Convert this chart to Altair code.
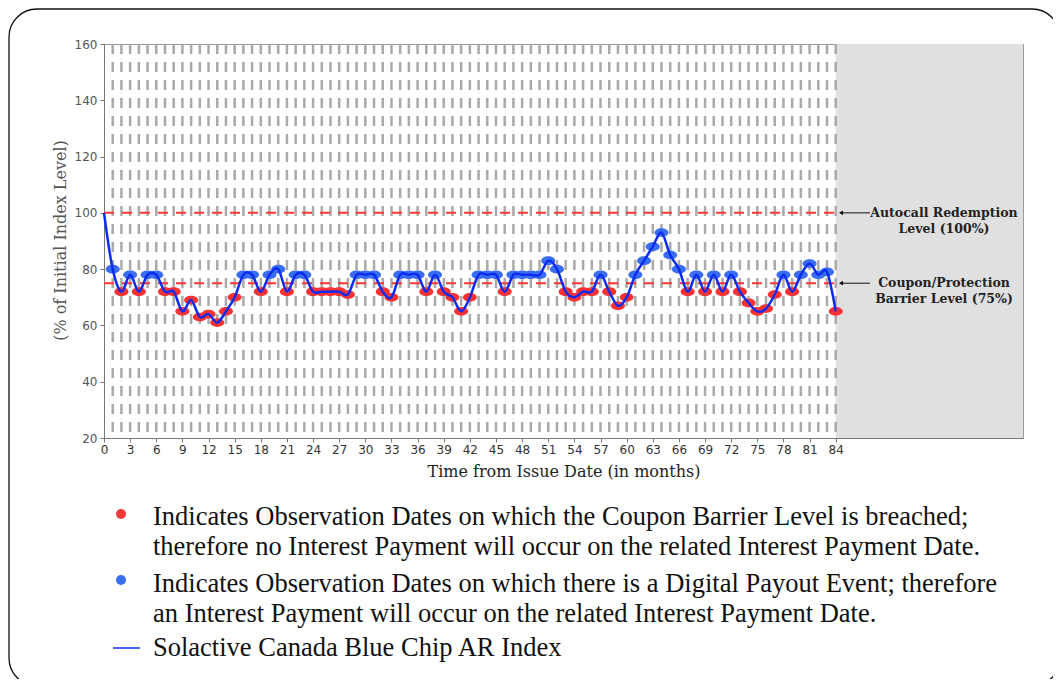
import altair as alt
import pandas as pd

# ---- data ----
months = list(range(0, 85))
index_level = [100,
    80, 72, 78, 72, 78, 78, 72, 72, 65, 69,
    63, 64, 61, 65, 70, 78, 78, 72, 78, 80,
    72, 78, 78, 72, 72, 72, 72, 71, 78, 78,
    78, 72, 70, 78, 78, 78, 72, 78, 72, 70,
    65, 70, 78, 78, 78, 72, 78, 78, 78, 78,
    83, 80, 72, 70, 72, 72, 78, 72, 67, 70,
    78, 83, 88, 93, 85, 80, 72, 78, 72, 78,
    72, 78, 72, 68, 65, 66, 71, 78, 72, 78,
    82, 78, 79, 65]
barrier = 75
autocall = 100
x_ticks = list(range(0, 85, 3))
y_ticks = list(range(20, 161, 20))
ann_levels = [100, 75]
ann_texts = [["Autocall Redemption", "Level (100%)"], ["Coupon/Protection", "Barrier Level (75%)"]]
legend_red = ["Indicates Observation Dates on which the Coupon Barrier Level is breached;",
              "therefore no Interest Payment will occur on the related Interest Payment Date."]
legend_blue = ["Indicates Observation Dates on which there is a Digital Payout Event; therefore",
               "an Interest Payment will occur on the related Interest Payment Date."]
legend_line = "Solactive Canada Blue Chip AR Index"

X_MAX = 105.5
W, H = 919, 394

line_df = pd.DataFrame({"month": months, "level": index_level})
obs_df = pd.DataFrame({"month": months[1:], "level": index_level[1:]})
obs_df["status"] = ["Payout" if v >= barrier else "Breached" for v in obs_df["level"]]
grid_df = pd.DataFrame({"month": list(range(1, 85))})
hline_df = pd.DataFrame({"level": [autocall, barrier]})
region_df = pd.DataFrame({"start": [84], "end": [X_MAX]})
ann_df = pd.DataFrame({"level": ann_levels, "label": ann_texts})
one = pd.DataFrame({"k": [0]})

xs = alt.Scale(domain=[0, X_MAX], nice=False, zero=False)
ys = alt.Scale(domain=[20, 160], nice=False, zero=False)

x_axis = alt.Axis(values=x_ticks, grid=False, title="Time from Issue Date (in months)",
                  labelFont="DejaVu Sans", labelFontSize=12, labelColor="#333",
                  labelFlush=False, labelOverlap=False, labelBound=False, tickSize=4,
                  tickColor="#777", domainColor="#777", labelPadding=2,
                  titleFont="DejaVu Serif", titleFontSize=16, titleFontWeight="normal",
                  titleColor="#222", titleY=38, titleBaseline="alphabetic")
y_axis = alt.Axis(values=y_ticks, grid=False, title="(% of Initial Index Level)",
                  labelFont="DejaVu Sans", labelFontSize=12, labelColor="#555",
                  labelOverlap=False, tickSize=4, tickColor="#777", domainColor="#777",
                  labelPadding=3, titleFont="DejaVu Serif", titleFontSize=16,
                  titleFontWeight="normal", titleColor="#555", titleX=-39, titleY=196,
                  titleBaseline="alphabetic")

def X(field):
    return alt.X(field, scale=xs, axis=x_axis)

def Y(field):
    return alt.Y(field, scale=ys, axis=y_axis)

region = alt.Chart(region_df).mark_rect(color="#e0e0e0").encode(
    x=X("start:Q"), x2="end:Q",
    y=alt.datum(160, scale=ys, axis=y_axis), y2=alt.datum(20))

grid = alt.Chart(grid_df).mark_rule(color="#aaaaaa", strokeWidth=2.5, strokeDash=[10, 8]).encode(
    x=X("month:Q"), y=alt.datum(160, scale=ys, axis=y_axis), y2=alt.datum(20))

hlines = alt.Chart(hline_df).mark_rule(color="#ff3535", strokeWidth=2, strokeDash=[10, 8]).encode(
    x=alt.datum(0, scale=xs, axis=x_axis), x2=alt.datum(84), y=Y("level:Q"))

ellipse = "M-1,0 A1,0.62 0 1,1 1,0 A1,0.62 0 1,1 -1,0 Z"
points = alt.Chart(obs_df).mark_point(shape=ellipse, filled=True, size=196, opacity=1).encode(
    x=X("month:Q"), y=Y("level:Q"),
    color=alt.Color("status:N", scale=alt.Scale(domain=["Breached", "Payout"],
                                               range=["#fa3232", "#3a6ef2"]), legend=None))

line = alt.Chart(line_df).mark_line(color="#0b2cf0", strokeWidth=2.5, interpolate="cardinal").encode(
    x=X("month:Q"), y=Y("level:Q"))

arrows = alt.Chart(ann_df).mark_rule(color="#111", strokeWidth=1).encode(
    x=alt.value(736), x2=alt.value(766), y=Y("level:Q"))
heads = alt.Chart(ann_df).mark_point(shape="triangle-left", filled=True, color="#111",
                                     size=22, opacity=1).encode(
    x=alt.value(737), y=Y("level:Q"))
ann_text = alt.Chart(ann_df).mark_text(font="DejaVu Serif", fontSize=12.5, fontWeight="bold",
                                       color="#222", align="center", baseline="middle",
                                       lineHeight=16).encode(
    x=alt.value(840), y=Y("level:Q"), text="label")

def leg_text(lines, y):
    return alt.Chart(one).mark_text(text=lines, font="Liberation Serif", fontSize=26.5,
                                    color="#111", align="left", baseline="alphabetic",
                                    lineHeight=29.5).encode(x=alt.value(49), y=alt.value(y))

def leg_dot(color, y):
    return alt.Chart(one).mark_point(shape="circle", filled=True, size=100, color=color,
                                     opacity=1).encode(x=alt.value(17), y=alt.value(y))

leg_line = alt.Chart(one).mark_rule(color="#1030e8", strokeWidth=1.5).encode(
    x=alt.value(9), x2=alt.value(36), y=alt.value(604))

border = alt.Chart(one).mark_rect(fillOpacity=0, stroke="#111", strokeWidth=1.3,
                                  cornerRadius=28).encode(
    x=alt.value(-95), x2=alt.value(956), y=alt.value(-35), y2=alt.value(642))

chart = alt.layer(
    region, grid, hlines, points, line, arrows, heads, ann_text,
    leg_dot("#f03a3a", 470), leg_text(legend_red, 481),
    leg_dot("#3a6ef0", 536), leg_text(legend_blue, 548),
    leg_line, leg_text([legend_line], 612), border
).properties(
    width=W, height=H,
    autosize=alt.AutoSizeParams(type="none"),
    padding={"left": 96, "top": 36, "right": 30, "bottom": 241},
    background="white"
).configure_view(stroke="#999", strokeWidth=1
).configure_axis(labelOverlap=False)

chart.save("out.html", embed_options={"renderer": "svg", "actions": False})
